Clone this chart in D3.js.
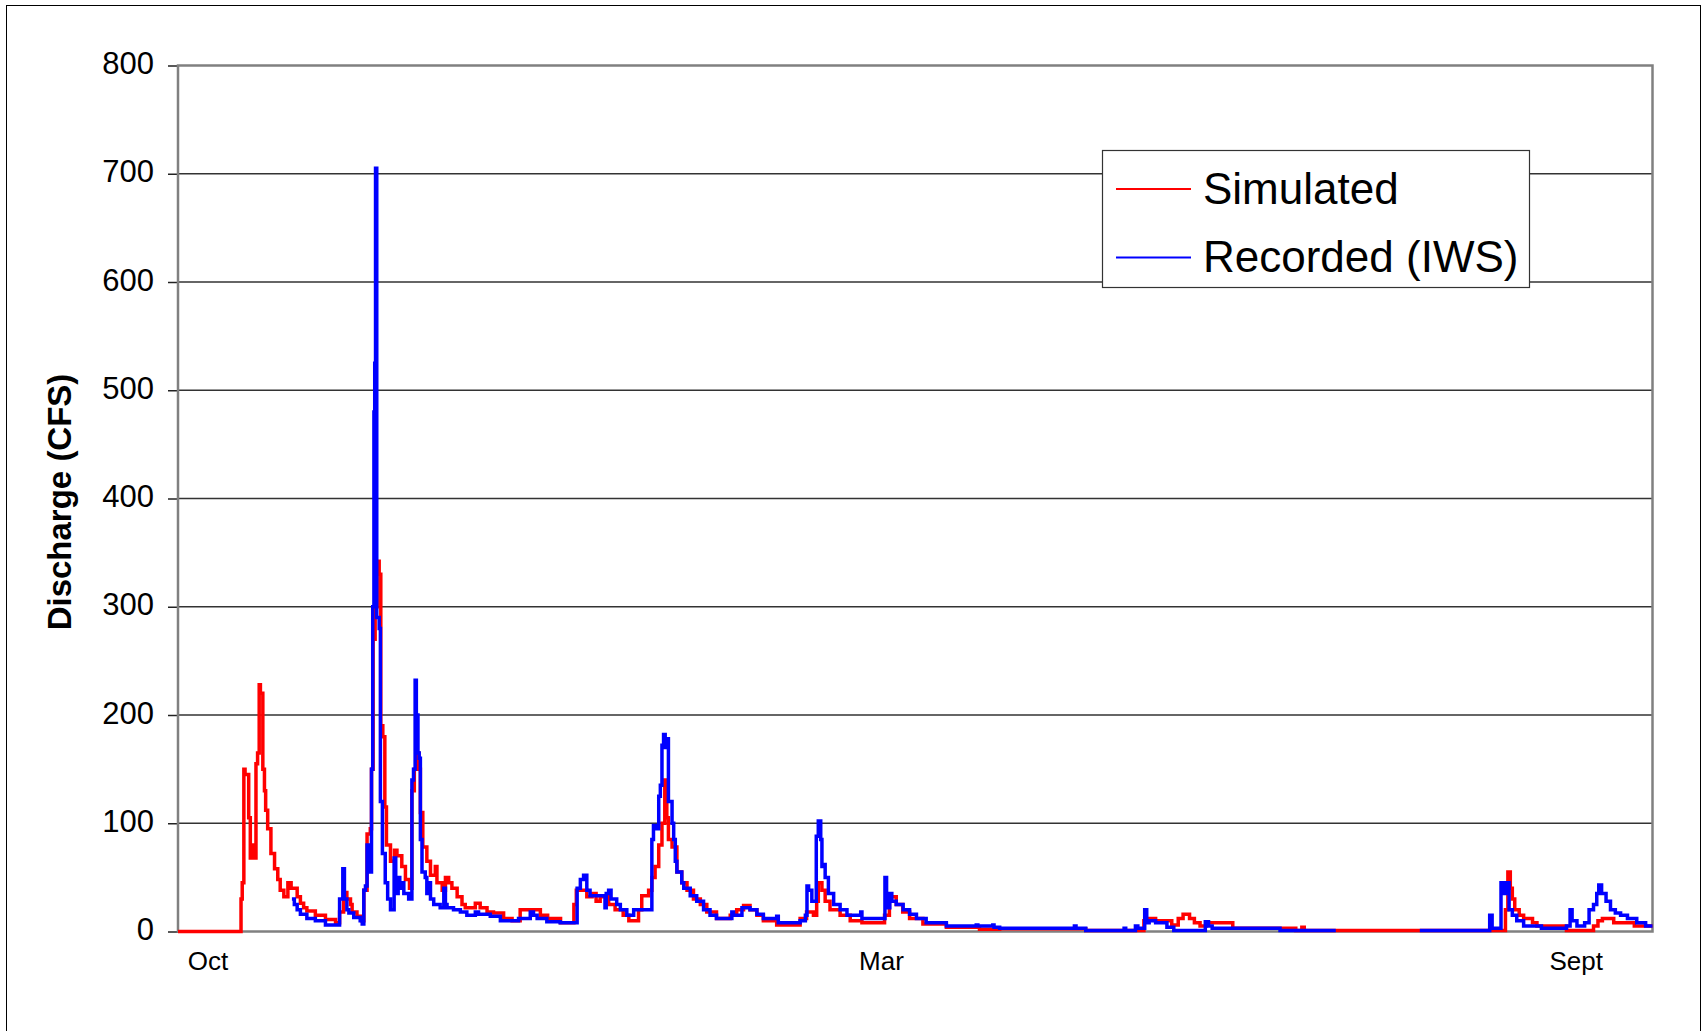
<!DOCTYPE html>
<html>
<head>
<meta charset="utf-8">
<script src="https://cdn.jsdelivr.net/npm/d3@7"></script>
<style>
  body { margin: 0; background: #fff; }
  text { font-family: "Liberation Sans", Arial, sans-serif; }
</style>
</head>
<body>
<div id="my_dataviz"></div>
<script>
// day of water year (0 = Oct 1) and discharge in CFS
var simulated = [
  [0, 0], [15.6, 30], [15.9, 45], [16.3, 150], [16.6, 145], [17.5, 105], [17.9, 68], [18.3, 80], [18.9, 68],
  [19.3, 155], [19.7, 165], [20.1, 228], [20.4, 220], [21.0, 150], [21.4, 130], [21.7, 112], [22.2, 95],
  [23.0, 72], [23.9, 58], [24.7, 48], [25.3, 38], [26.2, 32], [27.2, 45], [28.0, 40], [29.5, 32], [30.3, 26],
  [31.1, 22], [31.9, 19], [34.0, 15], [36.5, 11], [39.0, 8], [40.0, 18], [41.0, 36], [41.8, 30], [42.7, 25],
  [43.1, 18], [44.3, 14], [45.5, 10], [46.0, 38], [46.8, 90], [47.6, 95], [47.9, 150], [48.3, 270], [48.8, 300],
  [49.3, 342], [49.8, 330], [50.2, 190], [50.7, 180], [51.2, 115], [51.6, 80], [52.6, 65], [53.6, 75], [54.2, 70],
  [55.4, 60], [56.3, 48], [57.3, 40], [57.9, 130], [58.5, 150], [59.0, 165], [59.6, 150], [60.0, 110], [60.6, 78],
  [61.6, 65], [62.5, 52], [63.7, 60], [64.1, 45], [65.4, 38], [66.2, 50], [67.0, 45], [67.8, 40], [69.1, 32],
  [70.3, 25], [71.1, 22], [73.6, 26], [74.8, 22], [76.5, 18], [78.1, 17], [80.6, 12], [82.7, 10], [84.7, 20],
  [89.7, 15], [91.5, 12], [94.7, 8], [98.0, 25], [98.6, 38], [100.4, 38], [101.2, 32], [102.5, 35], [103.5, 28],
  [104.5, 32], [106.6, 25], [108.2, 20], [110.2, 15], [111.6, 10], [114.0, 20], [114.8, 33], [116.5, 38],
  [117.3, 50], [118.1, 60], [119.0, 80], [119.8, 100], [120.5, 140], [121.0, 105], [121.4, 85], [122.3, 78],
  [123.5, 55], [124.7, 45], [126.0, 38], [127.6, 30], [129.3, 25], [130.9, 18], [133.3, 12], [136.7, 15],
  [138.3, 20], [140.0, 24], [141.6, 20], [143.3, 15], [144.9, 10], [148.2, 6], [154.0, 12], [155.6, 18],
  [157.3, 15], [158.1, 28], [158.5, 45], [159.4, 38], [160.2, 28], [161.4, 20], [163.9, 15], [166.4, 10],
  [169.3, 8], [174.9, 15], [176.1, 32], [177.8, 25], [179.4, 18], [181.1, 12], [184.4, 7], [190.2, 4],
  [198.4, 2], [203.4, 2.5], [224.7, 1], [239.1, 10], [239.9, 12], [242.0, 10], [246.0, 6], [247.6, 12],
  [248.8, 16], [250.4, 12], [251.6, 8], [253.0, 5], [254.5, 8], [261.1, 3], [276.7, 1], [278.2, 4], [278.8, 1],
  [328.6, 20], [329.2, 55], [329.8, 40], [330.3, 30], [330.9, 20], [332.0, 15], [333.1, 12], [335.3, 8],
  [336.4, 5], [343.7, 1], [350.4, 5], [351.5, 10], [352.6, 12], [355.4, 8], [360.5, 5], [365, 5]
]

// recorded gauge (IWS) starts later and has a gap in summer (null)
var recorded = [
  [28.2, 30], [28.8, 25], [29.5, 20], [30.3, 16], [31.9, 12], [34.0, 10], [36.5, 6], [40.0, 30], [40.8, 58],
  [41.2, 30], [41.8, 20], [42.3, 17], [43.5, 13], [45.1, 10], [45.6, 7], [46.0, 38], [46.4, 42], [46.8, 80],
  [47.5, 55], [47.9, 150], [48.2, 300], [48.5, 480], [48.7, 525], [48.9, 705], [49.2, 290], [49.8, 280],
  [50.1, 120], [50.6, 72], [51.3, 45], [51.9, 30], [52.6, 20], [53.5, 68], [53.9, 35], [54.5, 50], [54.9, 40],
  [55.3, 45], [55.9, 35], [57.1, 30], [57.9, 140], [58.3, 150], [58.7, 232], [59.0, 200], [59.4, 165],
  [59.7, 160], [60.0, 85], [60.4, 55], [61.2, 50], [61.6, 35], [62.0, 45], [62.5, 30], [63.3, 25], [64.9, 22],
  [65.8, 40], [66.2, 25], [66.6, 22], [68.2, 20], [69.9, 18], [71.5, 15], [73.6, 18], [74.4, 16], [77.3, 14],
  [79.8, 10], [84.3, 12], [87.2, 18], [88.0, 15], [88.9, 12], [91.3, 9], [94.6, 8], [98.8, 40], [99.6, 48],
  [100.4, 52], [101.2, 38], [102.0, 33], [105.7, 22], [106.0, 35], [106.6, 38], [107.2, 30], [108.6, 25],
  [109.5, 20], [111.1, 15], [112.8, 20], [116.8, 20], [117.3, 85], [117.7, 98], [118.5, 95], [119.0, 125],
  [119.4, 135], [119.8, 172], [120.2, 182], [120.6, 170], [121.0, 178], [121.4, 120], [122.3, 100], [122.7, 85],
  [123.1, 65], [123.5, 55], [124.7, 45], [125.2, 40], [126.8, 33], [128.4, 28], [130.1, 20], [131.7, 15],
  [133.3, 12], [137.1, 18], [137.5, 15], [139.6, 22], [141.6, 20], [143.3, 16], [144.9, 12], [148.2, 14],
  [148.6, 8], [154.0, 10], [155.3, 15], [155.7, 42], [156.1, 38], [156.9, 28], [158.0, 88], [158.5, 102],
  [159.1, 85], [159.4, 60], [159.9, 62], [160.2, 50], [161.0, 35], [162.3, 25], [163.9, 20], [165.6, 15],
  [169.0, 18], [169.3, 12], [175.0, 50], [175.4, 22], [176.2, 35], [176.7, 28], [177.8, 25], [179.5, 20],
  [181.1, 16], [182.8, 12], [185.2, 8], [190.2, 5], [197.6, 6], [198.0, 5], [201.7, 6], [202.0, 4], [203.4, 3],
  [221.9, 5], [222.3, 3], [224.7, 1], [234.2, 3], [234.6, 1], [237.0, 5], [237.6, 3], [239.3, 20], [239.8, 8],
  [240.4, 10], [242.0, 8], [244.8, 4], [246.5, 1], [254.3, 9], [255.1, 5], [256.0, 3], [272.8, 1], [286.6, 1],
  [286.7, null], [307.4, 1], [324.7, 15], [325.3, 3], [327.5, 45], [328.3, 35], [328.7, 45], [329.5, 20],
  [330.3, 15], [331.4, 10], [333.1, 5], [337.5, 3], [343.7, 5], [344.6, 20], [345.1, 10], [346.3, 5],
  [348.2, 8], [349.3, 20], [350.4, 25], [351.2, 35], [351.7, 43], [352.4, 35], [353.5, 28], [354.6, 20],
  [355.8, 17], [357.1, 15], [358.8, 12], [361.1, 8], [363.3, 5], [365, 5]
]

var monthLabels = ["Oct", "Mar", "Sept"]
var monthDays = [7.3, 174, 346]
var yTicks = [0, 100, 200, 300, 400, 500, 600, 700, 800]
var seriesNames = ["Simulated", "Recorded (IWS)"]
var seriesColors = ["#ff0000", "#0000ff"]

// set the dimensions of the drawing
var width = 1708
var height = 1031
var plot = { left: 178, right: 1652.5, top: 65.5, bottom: 931.5 }

var svg = d3.select("#my_dataviz")
    .append("svg")
    .attr("width", width)
    .attr("height", height)
    .style("display", "block")

svg.append("rect")
    .attr("width", width)
    .attr("height", height)
    .attr("fill", "#fff")

// outer chart border (bottom edge falls outside the picture)
svg.append("rect")
    .attr("x", 6.5)
    .attr("y", 5.5)
    .attr("width", 1694)
    .attr("height", 1040)
    .attr("fill", "none")
    .attr("stroke", "#000")
    .attr("stroke-width", 1)

var x = d3.scaleLinear()
    .domain([0, 365])
    .range([plot.left, plot.right])

var y = d3.scaleLinear()
    .domain([0, 800])
    .range([plot.bottom, plot.top])

// horizontal gridlines
svg.append("g")
    .selectAll("line")
    .data(yTicks.filter(function (d) { return d > 0 && d < 800 }))
    .enter()
    .append("line")
    .attr("x1", plot.left)
    .attr("x2", plot.right)
    .attr("y1", function (d) { return y(d) })
    .attr("y2", function (d) { return y(d) })
    .attr("stroke", "#333")
    .attr("stroke-width", 1.5)

// y axis with labels
var yAxis = svg.append("g")
    .attr("transform", "translate(" + plot.left + ",0)")
    .call(d3.axisLeft(y).tickValues(yTicks).tickSize(10).tickPadding(14))
yAxis.select(".domain").remove()
yAxis.selectAll(".tick line").attr("stroke", "#222").attr("stroke-width", 1.5)
yAxis.selectAll(".tick text")
    .attr("font-size", "31px")
    .attr("fill", "#000")
    .attr("dy", "0.26em")
    .style("font-family", "'Liberation Sans', Arial, sans-serif")

// plot area frame
svg.append("rect")
    .attr("x", plot.left)
    .attr("y", plot.top)
    .attr("width", plot.right - plot.left)
    .attr("height", plot.bottom - plot.top)
    .attr("fill", "none")
    .attr("stroke", "#808080")
    .attr("stroke-width", 2.5)

// x axis: month labels only, no tick marks
var xAxis = svg.append("g")
    .attr("transform", "translate(0," + plot.bottom + ")")
    .call(d3.axisBottom(x).tickValues(monthDays).tickSize(0).tickPadding(20)
        .tickFormat(function (d, i) { return monthLabels[i] }))
xAxis.select(".domain").remove()
xAxis.selectAll(".tick text")
    .attr("font-size", "26px")
    .attr("fill", "#000")
    .style("font-family", "'Liberation Sans', Arial, sans-serif")

// y axis title
svg.append("text")
    .attr("transform", "translate(71,502) rotate(-90)")
    .attr("text-anchor", "middle")
    .attr("font-size", "33px")
    .attr("font-weight", "bold")
    .text("Discharge (CFS)")

// the two discharge lines, drawn as steps
var line = d3.line()
    .defined(function (d) { return d[1] !== null })
    .x(function (d) { return x(d[0]) })
    .y(function (d) { return y(d[1]) })
    .curve(d3.curveStepAfter)

var allSeries = [simulated, recorded]
svg.append("g")
    .selectAll("path")
    .data(allSeries)
    .enter()
    .append("path")
    .attr("d", function (d) { return line(d) })
    .attr("fill", "none")
    .attr("stroke", function (d, i) { return seriesColors[i] })
    .attr("stroke-width", 3.5)
    .attr("stroke-linejoin", "miter")

// legend
var legend = svg.append("g")
legend.append("rect")
    .attr("x", 1102.5)
    .attr("y", 150.5)
    .attr("width", 427)
    .attr("height", 137)
    .attr("fill", "#fff")
    .attr("stroke", "#333")
    .attr("stroke-width", 1.2)

var item = legend.selectAll(".item")
    .data(seriesNames)
    .enter()
    .append("g")
    .attr("class", "item")
    .attr("transform", function (d, i) { return "translate(0," + (i * 68.5) + ")" })

item.append("line")
    .attr("x1", 1116)
    .attr("x2", 1191)
    .attr("y1", 189)
    .attr("y2", 189)
    .attr("stroke", function (d, i) { return seriesColors[i] })
    .attr("stroke-width", 2.2)

item.append("text")
    .attr("x", 1203)
    .attr("y", 203.5)
    .attr("font-size", "44px")
    .attr("fill", "#000")
    .text(function (d) { return d })
</script>
</body>
</html>
